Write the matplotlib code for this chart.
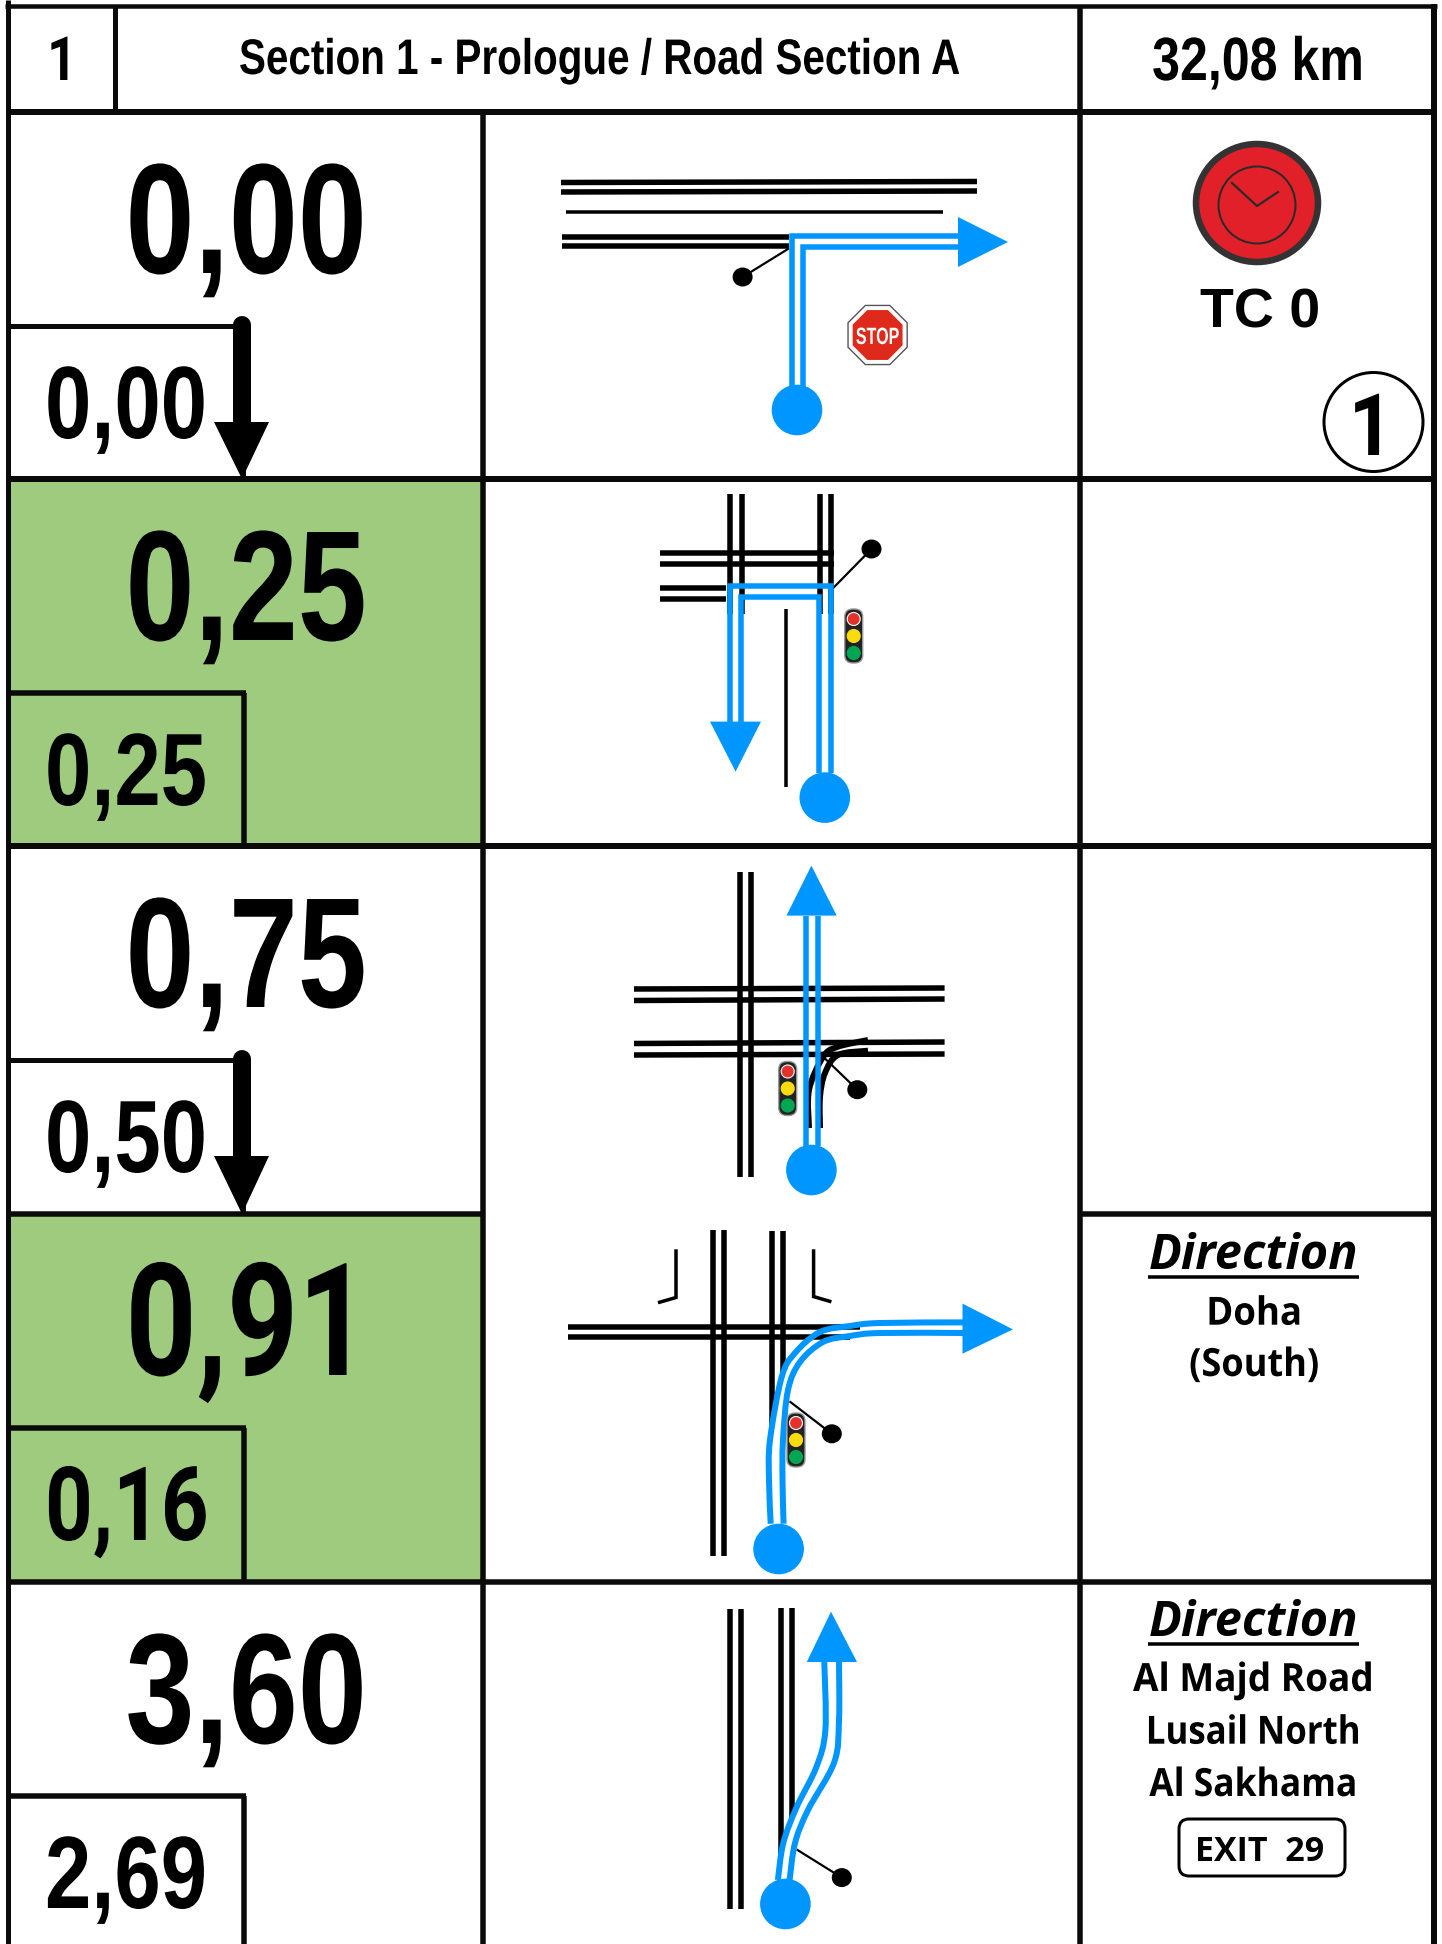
import matplotlib
matplotlib.use("Agg")
import matplotlib.pyplot as plt
from matplotlib.patches import Circle, Ellipse, FancyBboxPatch, Polygon, RegularPolygon, PathPatch
from matplotlib.patheffects import AbstractPathEffect
from matplotlib.path import Path
from matplotlib.transforms import Affine2D

# roadbook content
section_no = "1"
section_title = "Section 1 - Prologue / Road Section A"
section_km = "32,08 km"
total_km = ["0,00", "0,25", "0,75", "0,91", "3,60"]
partial_km = ["0,00", "0,25", "0,50", "0,16", "2,69"]
green_rows = [1, 3]
arrow_rows = [0, 2]
directions_row4 = ["Doha", "(South)"]
directions_row5 = ["Al Majd Road", "Lusail North", "Al Sakhama"]
exit_label = "EXIT  29"
tc_label = "TC 0"

# rows, in picture pixels
row_lines = [112, 479, 846, 1214, 1582]

# road sketches, one list of polylines each (x, y in picture pixels)
roads_1 = [[(561, 182.5), (977, 181.5)], [(561, 192), (977, 191)], [(562, 237), (789, 237)], [(562, 246.5), (789, 246.5)]]
thin_1 = [[(566, 212), (943, 212)]]
roads_2 = [[(730, 494), (730, 614)], [(742, 494), (742, 614)], [(819.5, 494), (819.5, 614)], [(830.5, 494), (830.5, 614)],
           [(660, 553), (834, 553)], [(660, 564.5), (834, 564.5)], [(660, 587.6), (726, 587.6)], [(660, 599), (726, 599)]]
thin_2 = [[(785.8, 609), (785.8, 787)]]
roads_3 = [[(740, 872), (740, 1176.5)], [(751, 872), (751, 1176.5)],
           [(634, 989), (944.6, 988)], [(634, 1000.5), (944.6, 999)],
           [(634, 1043.5), (944.6, 1042)], [(634, 1055), (944.6, 1054)]]
slip_3 = [[(809, 1128), (809, 1090), (823, 1057), (837, 1047), (868, 1040)],
          [(820, 1128), (820, 1097), (825, 1073), (838, 1055), (868, 1050.7)]]
roads_4_v = [[(713, 1230), (713, 1556.4)], [(724, 1230), (724, 1556.4)], [(771.8, 1231), (771.8, 1434)], [(783.2, 1231), (783.2, 1407)]]
roads_4_h = [[(568, 1326.6), (860, 1326.6)], [(568, 1337.3), (850, 1337.3)]]
corners_4 = [[(676, 1249.3), (676, 1297.5), (658, 1302.7)], [(813.6, 1249.3), (813.6, 1296.6), (831.4, 1301.8)]]
roads_5 = [[(729.6, 1609), (729.6, 1908.5)], [(740.7, 1609), (740.7, 1908.5)], [(780.7, 1608.4), (780.7, 1884)], [(791.8, 1608.4), (791.8, 1850)]]

# blue routes
route_1 = [[(791.5, 387), (791.5, 236), (960, 236)], [(803, 387), (803, 247), (960, 247)]]
route_2 = [[(830.5, 773), (830.5, 586), (729.5, 586), (729.5, 722)], [(818.7, 773), (818.7, 597), (741, 597), (741, 722)]]
route_3 = [[(805.7, 1146), (805.7, 916)], [(817.5, 1146), (817.5, 916)]]
route_4 = [[(770.7, 1523.7), (769, 1480), (770, 1440), (781.7, 1377), (795, 1353), (820, 1332), (850, 1326), (880, 1323), (963, 1322.4)],
           [(783.6, 1523.7), (782.5, 1480), (783, 1440), (788, 1390), (800, 1362), (823, 1342), (850, 1336), (880, 1333), (963, 1333)]]
route_5 = [[(777.9, 1880), (783.3, 1843), (796.7, 1807), (816.4, 1767), (825.4, 1729.7), (824.3, 1662)],
           [(789.6, 1880), (795, 1843), (808, 1810), (834.3, 1762), (839, 1720), (839, 1662)]]

heads = [[(958, 217), (958, 267), (1008, 242)],
         [(710, 721.6), (761, 721.6), (735.6, 771.6)],
         [(786.5, 915.6), (836.7, 915.6), (811.4, 865.6)],
         [(962.5, 1303.6), (962.5, 1353.7), (1012.9, 1329.4)],
         [(806.8, 1662), (857, 1662), (831, 1611.7)]]
starts = [(797, 410), (824.8, 797.6), (811.4, 1170), (778.6, 1549), (785.4, 1904)]

# pointer: dot then end of its leader on the road
pointers = [[(742.6, 277), (788, 249)], [(871.5, 549), (833.6, 587.6)], [(857.3, 1089.7), (824.4, 1058)],
            [(831.8, 1433.8), (790.4, 1402)], [(841.8, 1877.6), (797.5, 1850)]]
lights = [(853.7, 636), (787.7, 1088.5), (796, 1440)]

BLUE = "#0096FF"
GREEN = "#9FCB7E"
ARIAL = "Liberation Sans"
PLAIN_ONE = "Roboto"  # its 1 has no foot, like the reference
WIDE = ["Open Sans", "DejaVu Sans"]


class Squeeze(AbstractPathEffect):
    # narrows a text horizontally around its anchor x (pixels)
    def __init__(self, factor, x):
        super().__init__()
        self.factor = factor
        self.x = x

    def draw_path(self, renderer, gc, tpath, affine, rgbFace=None):
        narrow = affine + Affine2D().translate(-self.x, 0).scale(self.factor, 1).translate(self.x, 0)
        renderer.draw_path(gc, tpath, narrow, rgbFace)


def px(w):
    return w * 0.72


def label(x, y, s, size, squeeze=1.0, family=ARIAL, ha="center", z=5, **kw):
    kw.setdefault("weight", "bold")
    t = ax.text(x, y, s, family=family, fontsize=size, ha=ha, va="baseline", zorder=z, **kw)
    if squeeze != 1.0:
        t.set_path_effects([Squeeze(squeeze, x)])
    return t


def smooth(points):
    # catmull-rom through the hand-read points
    verts = [points[0]]
    codes = [Path.MOVETO]
    for i in range(len(points) - 1):
        p0 = points[max(i - 1, 0)]
        p1 = points[i]
        p2 = points[i + 1]
        p3 = points[min(i + 2, len(points) - 1)]
        c1 = (p1[0] + (p2[0] - p0[0]) / 6, p1[1] + (p2[1] - p0[1]) / 6)
        c2 = (p2[0] - (p3[0] - p1[0]) / 6, p2[1] - (p3[1] - p1[1]) / 6)
        verts += [c1, c2, p2]
        codes += [Path.CURVE4] * 3
    return Path(verts, codes)


def polylines(lines, color="black", w=5.5, z=3, join="miter"):
    for line in lines:
        xs = [p[0] for p in line]
        ys = [p[1] for p in line]
        ax.plot(xs, ys, color=color, lw=px(w), solid_capstyle="butt", solid_joinstyle=join, zorder=z)


def grid(x0, y0, x1, y1, w=5.5, z=6):
    ax.plot([x0, x1], [y0, y1], color="#0a0a0a", lw=px(w), solid_capstyle="butt", zorder=z)


def traffic_light(cx, cy):
    ax.add_patch(FancyBboxPatch((cx - 6, cy - 24), 12, 48, boxstyle="round,pad=3,rounding_size=8",
                                fc="#222222", ec="#999999", lw=1, zorder=7))
    for dy, col in [(-17, "#E4312B"), (0, "#F9DC0F"), (17, "#00A651")]:
        ax.add_patch(Circle((cx, cy + dy), 6.5, fc=col, ec="white" if dy < 0 else col, lw=0.8, zorder=8))


fig = plt.figure(figsize=(14.42, 19.44), dpi=100)
ax = fig.add_axes([0, 0, 1, 1])
ax.set_xlim(0, 1442)
ax.set_ylim(1944, 0)
ax.axis("off")

# green cells
for r in green_rows:
    ax.fill_between([8, 482], row_lines[r], row_lines[r + 1], color=GREEN, lw=0, zorder=1)

# table frame
grid(8, 0, 8, 1944, w=5)
grid(1434, 4, 1434, 1944, w=6)
grid(5, 6, 1437, 6, w=4.5)
grid(115, 6, 115, 112, w=5)
grid(1080, 6, 1080, 1944, w=5.5)
grid(482.5, 112, 482.5, 1944, w=5.5)
grid(8, 112, 1437, 112, w=6)
grid(8, 479, 1437, 479, w=6)
grid(8, 846, 1437, 846, w=6)
grid(8, 1214, 482, 1214, w=5.5)
grid(1080, 1214, 1437, 1214, w=5.5)
grid(8, 1582, 1437, 1582, w=5.5)

# header
label(62, 80, section_no, 44, family=PLAIN_ONE, squeeze=0.85)
label(600, 74, section_title, 36, squeeze=0.808)
label(1258, 80, section_km, 44, squeeze=0.82)

# distance cells
for r, (tot, par) in enumerate(zip(total_km, partial_km)):
    label(125.5, row_lines[r] + 161, tot, 113, squeeze=0.79, ha="left", family=PLAIN_ONE if "1" in tot else ARIAL)
    label(45, row_lines[r] + 326, par, 74, squeeze=0.81, ha="left", family=PLAIN_ONE if "1" in par else ARIAL)
    top = row_lines[r] + 214
    bottom = row_lines[r + 1] if r + 1 < len(row_lines) else 1944
    if r in arrow_rows:
        grid(8, top, 236, top, w=5)
        ax.plot([242, 242], [top - 1, top + 100], color="black", lw=px(18), solid_capstyle="round", zorder=7)
        ax.add_patch(Polygon([(214, top + 96), (269, top + 96), (242, bottom)], fc="black", ec="none", zorder=7))
        grid(243, bottom - 20, 243, bottom, w=5)
    else:
        grid(8, top, 246, top, w=5.5)
        grid(243.5, top, 243.5, bottom, w=5.5)

# sketches
polylines(roads_1)
polylines(thin_1, w=3.5)
polylines(roads_2)
polylines(thin_2, w=3.5)
polylines(roads_3)
polylines(roads_4_v, z=2)
polylines(roads_4_h, z=3)
polylines(corners_4, w=3.5)
polylines(roads_5, z=2)

# slip road under the route of row 3
for line in slip_3:
    ax.add_patch(PathPatch(smooth(line), fc="none", ec="black", lw=px(6), capstyle="butt", zorder=3))

for (dot, end) in pointers:
    ax.plot([dot[0], end[0]], [dot[1], end[1]], color="black", lw=px(2.2), zorder=3)
    ax.add_patch(Ellipse(dot, 20, 19, fc="black", ec="none", zorder=3))

polylines(route_1, color=BLUE, z=4)
polylines(route_2, color=BLUE, z=4)
polylines(route_3, color=BLUE, z=4)
for route in [route_4, route_5]:
    # the lane between the two blue edges is white and hides the road under it
    middle = [((a[0] + b[0]) / 2, (a[1] + b[1]) / 2) for a, b in zip(route[0], route[1])]
    ax.add_patch(PathPatch(smooth(middle), fc="none", ec="white", lw=px(9), capstyle="butt", zorder=2.5))
    for line in route:
        ax.add_patch(PathPatch(smooth(line), fc="none", ec=BLUE, lw=px(6), capstyle="butt", zorder=4))
for h in heads:
    ax.add_patch(Polygon(h, fc=BLUE, ec="none", zorder=4))
for s in starts:
    ax.add_patch(Circle(s, 25.3, fc=BLUE, ec="none", zorder=4))

for cx, cy in lights:
    traffic_light(cx, cy)

# stop sign
ax.add_patch(RegularPolygon((877.6, 335), 8, radius=32, orientation=3.14159 / 8, fc="white", ec="#555555", lw=1, zorder=5))
ax.add_patch(RegularPolygon((877.6, 335), 8, radius=27, orientation=3.14159 / 8, fc="#DE2A1B", ec="none", zorder=5))
label(877.6, 344, "STOP", 17, squeeze=0.68, color="white", z=6)

# time control
ax.add_patch(Ellipse((1257, 203), 122, 118, fc="#E1202A", ec="#333333", lw=px(6.5), zorder=3))
ax.add_patch(Circle((1257, 205), 38.5, fc="none", ec="#2a2a2a", lw=px(2), zorder=4))
ax.plot([1232, 1257, 1278], [183, 206, 192], color="#2a2a2a", lw=px(2.2), zorder=4)
label(1260, 328, tc_label, 40)
ax.add_patch(Circle((1373.5, 422), 49.5, fc="white", ec="black", lw=px(3), zorder=3))
label(1371, 455, "1", 62, family=PLAIN_ONE, squeeze=0.9)

# directions
for base in [1268.5, 1636]:
    label(1254, base, "Direction", 35, family=WIDE, style="italic")
    ax.plot([1148, 1359], [base + 8, base + 8], color="black", lw=px(3.5), solid_capstyle="butt")
for s, base, k in zip(directions_row4, [1324.7, 1376], [0.94, 0.93]):
    label(1254, base, s, 28, family=WIDE, squeeze=k)
for s, base, k in zip(directions_row5, [1691, 1743.7, 1796], [0.95, 0.895, 0.91]):
    label(1253, base, s, 28, family=WIDE, squeeze=k)
ax.add_patch(FancyBboxPatch((1189, 1829), 146, 37, boxstyle="round,pad=10,rounding_size=10", fc="white", ec="black", lw=px(3), zorder=3))
label(1260, 1860.8, exit_label, 24.5, family=WIDE)

fig.savefig("out.png", dpi=100)
